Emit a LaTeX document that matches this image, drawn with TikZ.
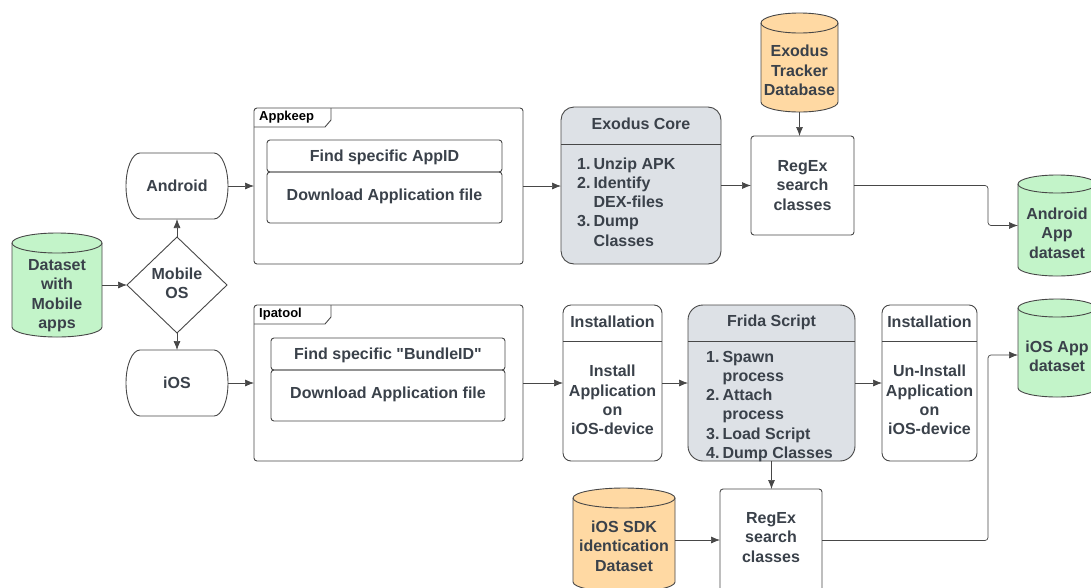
\documentclass[tikz,border=0pt]{standalone}
\usepackage{fontspec}
\setmainfont{Liberation Sans}[Ligatures=TeXOff]
\usetikzlibrary{arrows.meta,shapes.geometric}
\definecolor{ink}{HTML}{3A414A}
\definecolor{edge}{HTML}{474747}
\definecolor{dsgreen}{HTML}{C3F4C9}
\definecolor{dborange}{HTML}{FFD9A3}
\definecolor{coregray}{HTML}{DDE1E6}

\newcommand\drawcyl[4]{%
  \path[fill=#4, draw=edge, line width=0.9pt]
    ([yshift=-#3]#1.north west) -- ([yshift=#3]#1.south west)
    arc[start angle=180, end angle=360, x radius=#2, y radius=#3]
    -- ([yshift=-#3]#1.north east)
    arc[start angle=0, end angle=180, x radius=#2, y radius=#3] -- cycle;
  \draw[edge, line width=0.9pt] ([yshift=-#3]#1.north west)
    arc[start angle=180, end angle=360, x radius=#2, y radius=#3];
}
\newcommand\drawterm[1]{%
  \draw[edge, line width=0.9pt]
   ([xshift=14pt]#1.north west) -- ([xshift=-14pt]#1.north east)
   arc[start angle=90, end angle=-90, x radius=14pt, y radius=33pt]
   -- ([xshift=14pt]#1.south west)
   arc[start angle=270, end angle=90, x radius=14pt, y radius=33pt] -- cycle;
}
\newcommand\drawtab[1]{%
  \draw[edge, line width=0.9pt] ([yshift=-19pt]#1.north west) -- ++(71pt,0) -- ++(6pt,7pt) -- ++(0,12pt);
}
\newcommand\drawhead[2]{%
  \draw[edge, line width=0.9pt] ([yshift=-#2]#1.north west) -- ([yshift=-#2]#1.north east);
}

\tikzset{
  txt/.style={font=\fontsize{16}{19.3}\selectfont\bfseries, text=ink, align=center, inner sep=0pt},
  lst/.style={font=\fontsize{16}{19.3}\selectfont\bfseries, text=ink, inner sep=0pt},
  lbl/.style={font=\fontsize{13}{15}\selectfont\bfseries, text=black, inner sep=0pt},
  shp/.style={draw=none, inner sep=0pt, outer sep=0pt},
  box/.style={draw=edge, line width=0.9pt, inner sep=0pt, outer sep=0pt},
  conn/.style={draw=edge, line width=0.7pt, -{Latex[length=9pt,width=7pt]}},
}

\begin{document}
\begin{tikzpicture}[x=1pt,y=1pt]
\fill[white] (0,0) rectangle (1091,-587);
\useasboundingbox (0,0) rectangle (1091,-587);

% ---------- left part ----------
\node[shp, minimum width=90pt, minimum height=104pt] (ds) at (57,-285) {};
\drawcyl{ds}{45pt}{10pt}{dsgreen}
\node[txt] (dst) at (57,-295.5) {Dataset\\with\\Mobile\\apps};

\node[diamond, box, txt, minimum width=100pt, minimum height=96pt] (mos) at (177,-285) {\begin{tabular}{@{}c@{}}Mobile\\OS\end{tabular}};

\node[shp, txt, minimum width=102pt, minimum height=66pt] (android) at (177,-186) {Android};
\drawterm{android}
\node[shp, txt, minimum width=102pt, minimum height=66pt] (ios) at (177,-383) {iOS};
\drawterm{ios}

% ---------- frames ----------
\node[box, rounded corners=3pt, minimum width=269pt, minimum height=156pt] (appkeep) at (388.5,-186) {};
\drawtab{appkeep}
\node[lbl, anchor=west] (appkeepl) at (259,-117.5) {Appkeep};
\node[box, txt, rounded corners=3pt, minimum width=235pt, minimum height=32pt] (findapp) at (384.5,-156) {\raisebox{-1.5pt}[\height][\depth]{Find specific AppID}};
\node[box, txt, rounded corners=3pt, minimum width=235pt, minimum height=51pt] (dlapp) at (384.5,-197.5) {\raisebox{1.5pt}[\height][\depth]{Download Application file}};

\node[box, rounded corners=3pt, minimum width=269pt, minimum height=156pt] (ipatool) at (388.5,-383) {};
\drawtab{ipatool}
\node[lbl, anchor=west] (ipatooll) at (259,-314.5) {Ipatool};
\node[box, txt, rounded corners=3pt, minimum width=234pt, minimum height=32pt] (findbundle) at (388,-354) {\raisebox{-1pt}[\height][\depth]{Find specific "BundleID"}};
\node[box, txt, rounded corners=3pt, minimum width=234pt, minimum height=51pt] (dlios) at (388,-395.5) {\raisebox{1.5pt}[\height][\depth]{Download Application file}};

% ---------- Android branch ----------
\node[box, fill=coregray, rounded corners=13pt, minimum width=160pt, minimum height=157pt] (core) at (641,-185.5) {};
\drawhead{core}{37pt}
\node[txt] (coret) at (641,-124) {Exodus Core};
\node[lst, anchor=base west] (corel) at (577,-169) {\begin{tabular}[t]{@{}l@{\hspace{3pt}}l@{}}1.&Unzip APK\\2.&Identify\\&DEX-files\\3.&Dump\\&Classes\end{tabular}};

\node[shp, minimum width=77pt, minimum height=99pt] (exdb) at (799.5,-62.5) {};
\drawcyl{exdb}{38.5pt}{10pt}{dborange}
\node[txt] (exdbt) at (799.5,-70.5) {Exodus\\Tracker\\Database};

\node[box, txt, rounded corners=3pt, minimum width=103pt, minimum height=99pt] (rx1) at (802.5,-185.5) {RegEx\\search\\classes};

\node[shp, minimum width=78pt, minimum height=101pt] (andds) at (1057,-225.5) {};
\drawcyl{andds}{39pt}{9pt}{dsgreen}
\node[txt] (anddst) at (1057,-233) {Android\\App\\dataset};

% ---------- iOS branch ----------
\node[box, rounded corners=8pt, minimum width=99pt, minimum height=156pt] (inst1) at (612.5,-383) {};
\drawhead{inst1}{36pt}
\node[txt] (inst1t) at (612.5,-322) {Installation};
\node[txt] (inst1b) at (612.5,-400) {Install\\Application\\on\\iOS-device};

\node[box, fill=coregray, rounded corners=15pt, minimum width=167pt, minimum height=156pt] (frida) at (771.5,-383) {};
\drawhead{frida}{36pt}
\node[txt] (fridat) at (771.5,-322) {Frida Script};
\node[lst, anchor=base west] (fridal) at (706,-362) {\begin{tabular}[t]{@{}l@{\hspace{3pt}}l@{}}1.&Spawn\\&process\\2.&Attach\\&process\\3.&Load Script\\4.&Dump Classes\end{tabular}};

\node[box, rounded corners=8pt, minimum width=95pt, minimum height=156pt] (inst2) at (929.5,-383) {};
\drawhead{inst2}{36pt}
\node[txt] (inst2t) at (929.5,-322) {Installation};
\node[txt] (inst2b) at (929.5,-400) {Un-Install\\Application\\on\\iOS-device};

\node[box, txt, rounded corners=3pt, minimum width=102pt, minimum height=103pt] (rx2) at (771,-540.5) {\raisebox{1.5pt}[\height][\depth]{\begin{tabular}{@{}c@{}}RegEx\\search\\classes\end{tabular}}};

\node[shp, minimum width=102pt, minimum height=104pt] (sdk) at (624,-540) {};
\drawcyl{sdk}{51pt}{10pt}{dborange}
\node[txt] (sdkt) at (624,-546) {iOS SDK\\identication\\Dataset};

\node[shp, minimum width=78pt, minimum height=98pt] (iosds) at (1057,-348) {};
\drawcyl{iosds}{39pt}{9pt}{dsgreen}
\node[txt] (iosdst) at (1057,-356) {iOS App\\dataset};

% ---------- connectors ----------
\draw[conn] (ds.east) -- (mos.west);
\draw[conn] (mos.north) -- (android.south);
\draw[conn] (mos.south) -- (ios.north);
\draw[conn] (android.east) -- (android.east -| appkeep.west);
\draw[conn] (ios.east) -- (ios.east -| ipatool.west);
\draw[conn] (appkeep.east) -- (appkeep.east -| core.west);
\draw[conn] (core.east) -- (core.east -| rx1.west);
\draw[conn] (exdb.south) -- (exdb.south |- rx1.north);
\draw[conn, rounded corners=3pt] (rx1.east) -| ([xshift=-30pt]andds.west) -- (andds.west);
\draw[conn] (ipatool.east) -- (ipatool.east -| inst1.west);
\draw[conn] (inst1.east) -- (inst1.east -| frida.west);
\draw[conn] (frida.east) -- (frida.east -| inst2.west);
\draw[conn] (frida.south) -- (frida.south |- rx2.north);
\draw[conn] (sdk.east) -- (sdk.east -| rx2.west);
\draw[conn, rounded corners=3pt] (rx2.east) -| ([xshift=-30pt,yshift=-7pt]iosds.west) -- ([yshift=-7pt]iosds.west);
\end{tikzpicture}
\end{document}
